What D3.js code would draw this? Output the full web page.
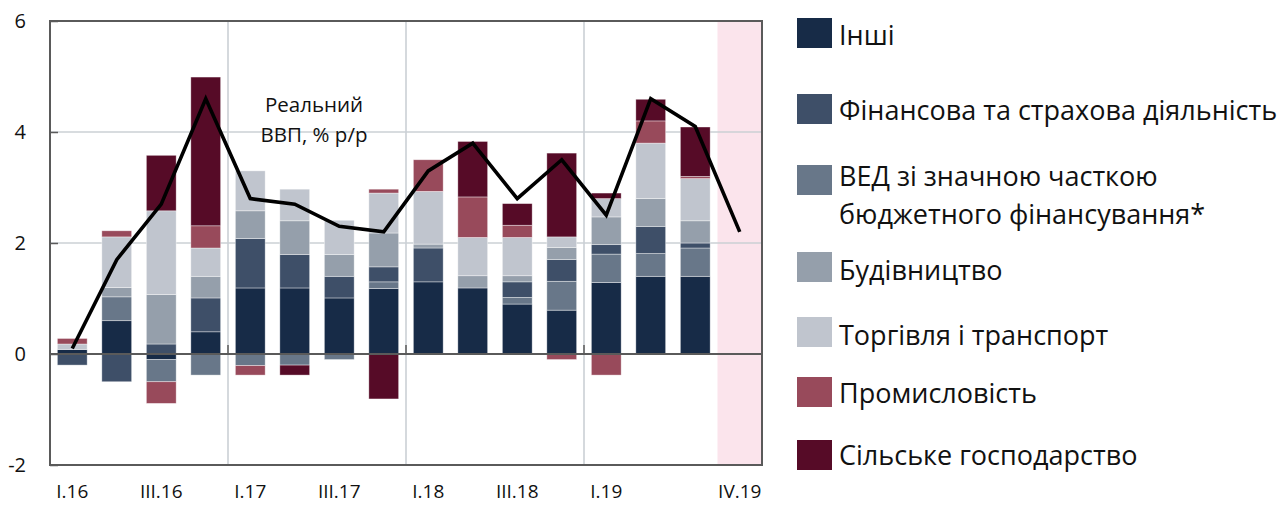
<!DOCTYPE html>
<html><head><meta charset="utf-8">
<script src="https://cdn.jsdelivr.net/npm/d3@7"></script>
<style>
body{margin:0;background:#fff}
svg{display:block}
text{font-family:'Open Sans',sans-serif;fill:#111}
</style>
</head><body>
<svg id="chart" width="1287" height="505"></svg>
<script>
// ---------- DATA ----------
const categories = ["I.16","II.16","III.16","IV.16","I.17","II.17","III.17","IV.17","I.18","II.18","III.18","IV.18","I.19","II.19","III.19","IV.19"];
const tickLabels = ["I.16","","III.16","","I.17","","III.17","","I.18","","III.18","","I.19","","","IV.19"];
const yTicks = [-2, 0, 2, 4, 6];

const other        = [0.08, 0.60, -0.10, 0.40, 1.19, 1.19, 1.01, 1.18, 1.30, 1.19, 0.90, 0.79, 1.29, 1.40, 1.40, 0];
const budgetSector = [0.00, 0.43, -0.40, -0.38, -0.21, -0.20, -0.10, 0.12, 0.00, 0.00, 0.12, 0.52, 0.51, 0.41, 0.51, 0];
const finance      = [-0.20, -0.50, 0.18, 0.61, 0.89, 0.60, 0.39, 0.27, 0.61, 0.00, 0.28, 0.39, 0.17, 0.49, 0.09, 0];
const construction = [0.00, 0.17, 0.89, 0.39, 0.50, 0.61, 0.39, 0.61, 0.07, 0.22, 0.11, 0.22, 0.50, 0.50, 0.40, 0];
const trade        = [0.10, 0.91, 1.51, 0.51, 0.72, 0.57, 0.62, 0.72, 0.95, 0.69, 0.69, 0.19, 0.33, 1.00, 0.76, 0];
const industry     = [0.10, 0.11, -0.39, 0.40, -0.17, 0.00, 0.00, 0.07, 0.57, 0.73, 0.22, -0.10, -0.38, 0.40, 0.04, 0];
const agriculture  = [0.00, 0.00, 1.00, 2.68, 0.00, -0.18, 0.00, -0.81, 0.00, 1.00, 0.39, 1.51, 0.10, 0.39, 0.89, 0];
const realGDP      = [0.1, 1.7, 2.7, 4.6, 2.8, 2.7, 2.3, 2.2, 3.3, 3.8, 2.8, 3.5, 2.5, 4.6, 4.1, 2.2];

const seriesNames = ["Інші", "Фінансова та страхова діяльність", "ВЕД зі значною часткою бюджетного фінансування*", "Будівництво", "Торгівля і транспорт", "Промисловість", "Сільське господарство"];
const seriesColors = ["#172b47", "#3e4f68", "#687789", "#959fab", "#c0c5ce", "#984a5b", "#560b27"];
const forecastCategory = "IV.19";
const gdpLabel = ["Реальний", "ВВП, % р/р"];

// ---------- BUILD ----------
const seriesValues = {
  "Інші": other,
  "Фінансова та страхова діяльність": finance,
  "ВЕД зі значною часткою бюджетного фінансування*": budgetSector,
  "Будівництво": construction,
  "Торгівля і транспорт": trade,
  "Промисловість": industry,
  "Сільське господарство": agriculture
};
const colorOf = Object.fromEntries(seriesNames.map((n,i)=>[n, seriesColors[i]]));
// stacking order as drawn in the chart
const stackKeys = ["Інші", "ВЕД зі значною часткою бюджетного фінансування*", "Фінансова та страхова діяльність", "Будівництво", "Торгівля і транспорт", "Промисловість", "Сільське господарство"];
const table = categories.map((c,i)=>{
  const row = {cat:c};
  stackKeys.forEach(k=>row[k]=seriesValues[k][i]);
  return row;
});

const svg = d3.select("#chart");
const L = 50, R = 762, T = 21, B = 465;

const x = d3.scaleBand().domain(categories).range([L, R]).paddingInner(0.33).paddingOuter(0.165);
const y = d3.scaleLinear().domain([-2, 6]).range([B, T]);

// forecast shade
svg.append("rect")
  .attr("x", x(forecastCategory) - x.step()*x.paddingInner()/2)
  .attr("y", T).attr("width", x.step()).attr("height", B - T)
  .attr("fill", "#fbe4ec");

// horizontal gridlines
svg.append("g").selectAll("line").data(yTicks.filter(v=>v!==0 && v!==-2 && v!==6)).join("line")
  .attr("x1", L).attr("x2", R).attr("y1", d=>y(d)).attr("y2", d=>y(d))
  .attr("stroke", "#cbd0d5").attr("stroke-width", 1.6);

// vertical gridlines at year boundaries
const yearStarts = categories.filter((c,i)=>i>0 && c.startsWith("I."));
const boundaryX = c => x(c) - x.step()*x.paddingInner()/2;
svg.append("g").selectAll("line").data(yearStarts).join("line")
  .attr("x1", d=>boundaryX(d)).attr("x2", d=>boundaryX(d)).attr("y1", T).attr("y2", B)
  .attr("stroke", "#cbd0d5").attr("stroke-width", 1.6);

// stacked bars
const stack = d3.stack().keys(stackKeys).offset(d3.stackOffsetDiverging);
const layers = stack(table);
svg.append("g").selectAll("g").data(layers).join("g")
  .attr("fill", d=>colorOf[d.key])
  .selectAll("rect").data(d=>d.filter(p=>Math.abs(p[1]-p[0])>1e-9)).join("rect")
    .attr("x", d=>x(d.data.cat))
    .attr("width", x.bandwidth())
    .attr("y", d=>y(Math.max(d[0], d[1])))
    .attr("height", d=>Math.abs(y(d[0]) - y(d[1])))
    .attr("stroke", "#ffffff").attr("stroke-width", 0.7).attr("stroke-opacity", 0.55);

// zero line
svg.append("line").attr("x1", L).attr("x2", R).attr("y1", y(0)).attr("y2", y(0))
  .attr("stroke", "#5a5a5a").attr("stroke-width", 2);
// category ticks on zero line
svg.append("g").selectAll("line").data(yearStarts).join("line")
  .attr("x1", d=>boundaryX(d)).attr("x2", d=>boundaryX(d))
  .attr("y1", y(0)).attr("y2", y(0) - 9)
  .attr("stroke", "#5a5a5a").attr("stroke-width", 1.5);

// plot frame
svg.append("rect").attr("x", L).attr("y", T).attr("width", R-L).attr("height", B-T)
  .attr("fill", "none").attr("stroke", "#5a5a5a").attr("stroke-width", 2);

// y axis
const yAxis = d3.axisLeft(y).tickValues(yTicks).tickSize(-8).tickPadding(24).tickFormat(d=>String(d));
const yg = svg.append("g").attr("transform", `translate(${L},0)`).call(yAxis);
yg.select(".domain").remove();
yg.selectAll(".tick line").attr("stroke", "#5a5a5a").attr("stroke-width", 1.5);
yg.selectAll(".tick text").attr("font-size", 20).attr("fill", "#111").style("font-family", "'Open Sans',sans-serif");

// x axis labels
const xAxis = d3.axisBottom(x).tickSize(0).tickPadding(20).tickFormat((d,i)=>tickLabels[i]);
const xg = svg.append("g").attr("transform", `translate(0,${B})`).call(xAxis);
xg.select(".domain").remove();
xg.selectAll(".tick text").attr("font-size", 19).attr("fill", "#111").style("font-family", "'Open Sans',sans-serif");

// GDP line
const line = d3.line().x((d,i)=>x(categories[i]) + x.bandwidth()/2).y(d=>y(d));
svg.append("path").datum(realGDP).attr("d", line)
  .attr("fill", "none").attr("stroke", "#000").attr("stroke-width", 3.6).attr("stroke-linejoin", "miter");

// GDP annotation
const ann = svg.append("text").attr("x", 314).attr("y", 112).attr("text-anchor", "middle").attr("font-size", 20.5);
ann.selectAll("tspan").data(gdpLabel).join("tspan").attr("x", 314).attr("dy", (d,i)=>i===0?0:30).text(d=>d);

// legend
const legendItems = [
  {name:"Інші", lines:["Інші"], cy:33, ty:[34]},
  {name:"Фінансова та страхова діяльність", lines:["Фінансова та страхова діяльність"], cy:109, ty:[109]},
  {name:"ВЕД зі значною часткою бюджетного фінансування*", lines:["ВЕД зі значною часткою","бюджетного фінансування*"], cy:180, ty:[175, 213]},
  {name:"Будівництво", lines:["Будівництво"], cy:267, ty:[269]},
  {name:"Торгівля і транспорт", lines:["Торгівля і транспорт"], cy:332, ty:[334]},
  {name:"Промисловість", lines:["Промисловість"], cy:392, ty:[392]},
  {name:"Сільське господарство", lines:["Сільське господарство"], cy:455, ty:[454]}
];
const lg = svg.append("g");
legendItems.forEach(it=>{
  lg.append("rect").attr("x", 797).attr("y", it.cy-15).attr("width", 35).attr("height", 30).attr("fill", colorOf[it.name]);
  it.lines.forEach((t,j)=>{
    lg.append("text").attr("x", 839).attr("y", it.ty[j]).attr("dominant-baseline", "central")
      .attr("font-size", 27).text(t);
  });
});
</script>
</body></html>
